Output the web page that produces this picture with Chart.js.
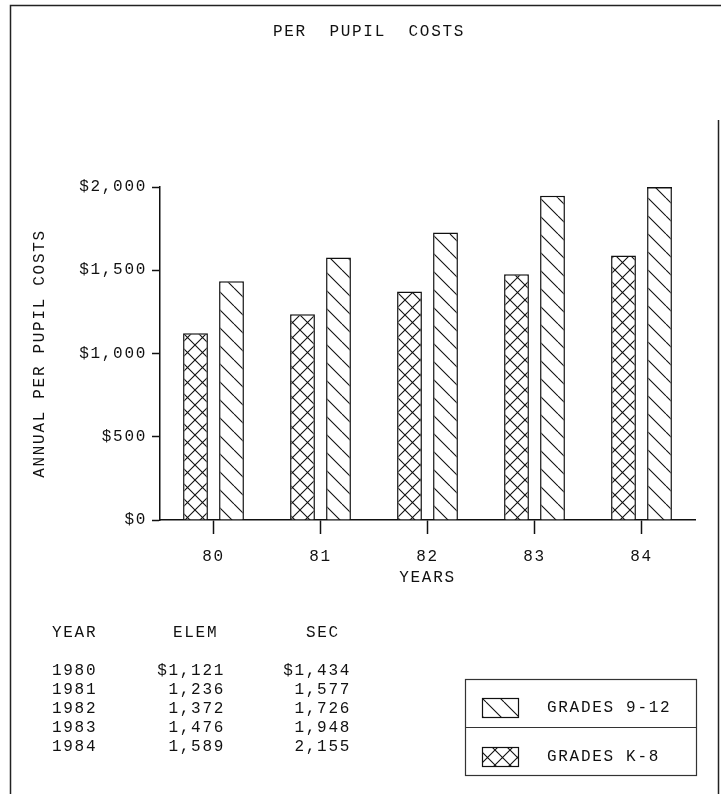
<!DOCTYPE html>
<html>
<head>
<meta charset="utf-8">
<title>Per Pupil Costs</title>
<script src="https://cdn.jsdelivr.net/npm/chart.js@4"></script>
<style>
  html, body { margin: 0; padding: 0; background: #fff; }
</style>
</head>
<body>
<canvas id="costs" width="721" height="794"></canvas>
<script>
// per pupil costs, 1980-84
const years = ['80', '81', '82', '83', '84'];
const elemCosts = [1121, 1236, 1372, 1476, 1589];
const secCosts = [1434, 1577, 1726, 1948, 2155];
const yTickLabels = ['$0', '$500', '$1,000', '$1,500', '$2,000'];
const legendLabels = ['GRADES 9-12', 'GRADES K-8'];
const tableHeads = ['YEAR', 'ELEM', 'SEC'];
const chartTitle = 'PER  PUPIL  COSTS';

const INK = '#111';
const FONT = "'Liberation Mono', 'DejaVu Sans Mono', monospace";
const SPACING = '1.7px';

Chart.defaults.font.family = FONT;
Chart.defaults.font.size = 16;
Chart.defaults.color = INK;

const canvas = document.getElementById('costs');
const ctx = canvas.getContext('2d');

// hatched fill on white
function hatch(size, cross) {
    const c = document.createElement('canvas');
    c.width = size;
    c.height = size;
    const g = c.getContext('2d');
    g.fillStyle = '#fff';
    g.fillRect(0, 0, size, size);
    g.strokeStyle = INK;
    g.lineWidth = 1.1;
    g.beginPath();
    for (let k = -1; k <= 1; k++) {
        g.moveTo(k * size, 0);
        g.lineTo(k * size + size, size);
        if (cross) {
            g.moveTo(k * size, size);
            g.lineTo(k * size + size, 0);
        }
    }
    g.stroke();
    return ctx.createPattern(c, 'repeat');
}

const crossFill = hatch(15, true);
const diagFill = hatch(18, false);

function money(v, first) {
    return (first ? '$' : '') + v.toLocaleString('en-US');
}

// typewriter-ish spacing for all text
const spacing = {
    id: 'spacing',
    beforeUpdate(chart) { chart.ctx.letterSpacing = SPACING; },
    beforeDraw(chart) { chart.ctx.letterSpacing = SPACING; }
};

const extras = {
    id: 'extras',
    afterDatasetsDraw(chart) {
        // bars over the $2,000 ceiling get a lid at the top
        const c = chart.ctx;
        const top = chart.chartArea.top;
        chart.data.datasets.forEach(function (ds, i) {
            chart.getDatasetMeta(i).data.forEach(function (bar, j) {
                if (ds.data[j] > chart.scales.y.max) {
                    c.save();
                    c.strokeStyle = INK;
                    c.lineWidth = 1.5;
                    c.beginPath();
                    c.moveTo(bar.x - bar.width / 2, top + 0.75);
                    c.lineTo(bar.x + bar.width / 2, top + 0.75);
                    c.stroke();
                    c.restore();
                }
            });
        });
    },
    afterDraw(chart) {
        const c = chart.ctx;
        c.save();
        c.letterSpacing = SPACING;

        // page frame
        c.strokeStyle = '#222';
        c.lineWidth = 1.5;
        c.beginPath();
        c.moveTo(10.5, 794);
        c.lineTo(10.5, 5.5);
        c.lineTo(721, 5.5);
        c.moveTo(718.5, 120);
        c.lineTo(718.5, 794);
        c.stroke();

        c.fillStyle = INK;
        c.font = '16px ' + FONT;
        c.textBaseline = 'middle';

        // title
        c.textAlign = 'center';
        c.fillText(chartTitle, 369, 32);

        // data table
        c.textAlign = 'left';
        c.fillText(tableHeads[0], 52, 633);
        c.fillText(tableHeads[1], 173, 633);
        c.fillText(tableHeads[2], 306, 633);
        years.forEach(function (y, i) {
            const rowY = 671 + i * 19;
            c.textAlign = 'left';
            c.fillText('19' + y, 52, rowY);
            c.textAlign = 'right';
            c.fillText(money(elemCosts[i], i === 0), 225, rowY);
            c.fillText(money(secCosts[i], i === 0), 351, rowY);
        });

        // legend box
        c.strokeStyle = '#333';
        c.lineWidth = 1.2;
        c.strokeRect(465.5, 679.5, 231, 96);
        c.beginPath();
        c.moveTo(465.5, 727.5);
        c.lineTo(696.5, 727.5);
        c.stroke();

        const rows = [
            { fill: diagFill, text: legendLabels[0], y: 698 },
            { fill: crossFill, text: legendLabels[1], y: 747 }
        ];
        rows.forEach(function (r) {
            c.fillStyle = r.fill;
            c.fillRect(482, r.y, 36, 19);
            c.strokeStyle = INK;
            c.lineWidth = 1.2;
            c.strokeRect(482.5, r.y + 0.5, 36, 19);
            c.fillStyle = INK;
            c.textAlign = 'left';
            c.fillText(r.text, 547, r.y + 10);
        });
        c.restore();
    }
};

new Chart(canvas, {
    type: 'bar',
    data: {
        labels: years,
        datasets: [{
            label: legendLabels[1],
            data: elemCosts,
            backgroundColor: crossFill,
            borderColor: INK,
            borderWidth: 1.5
        }, {
            label: legendLabels[0],
            data: secCosts,
            backgroundColor: diagFill,
            borderColor: INK,
            borderWidth: 1.5
        }]
    },
    options: {
        responsive: false,
        animation: false,
        devicePixelRatio: 1,
        categoryPercentage: 0.673,
        barPercentage: 0.69,
        layout: { padding: { top: 187, left: 10, right: 26, bottom: 200 } },
        plugins: {
            legend: { display: false },
            tooltip: { enabled: false },
            title: { display: false }
        },
        scales: {
            x: {
                grid: { offset: false, drawOnChartArea: false, tickLength: 14, tickColor: INK, tickWidth: 1.5 },
                border: { color: INK, width: 1.5 },
                ticks: { color: INK, padding: 13 },
                title: { display: true, text: 'YEARS', color: INK, padding: { top: 0, bottom: 7 } },
                afterFit: function (s) { s.height = 74; }
            },
            y: {
                min: 0,
                max: 2000,
                grid: { drawOnChartArea: false, tickLength: 8, tickColor: INK, tickWidth: 1.5 },
                border: { color: INK, width: 1.5 },
                ticks: {
                    stepSize: 500,
                    color: INK,
                    padding: 5,
                    callback: function (value, index) { return yTickLabels[index]; }
                },
                title: { display: true, text: 'ANNUAL PER PUPIL COSTS', color: INK, padding: { top: 20, bottom: 0 } },
                afterFit: function (s) { s.width = 150; }
            }
        }
    },
    plugins: [spacing, extras]
});
</script>
</body>
</html>
